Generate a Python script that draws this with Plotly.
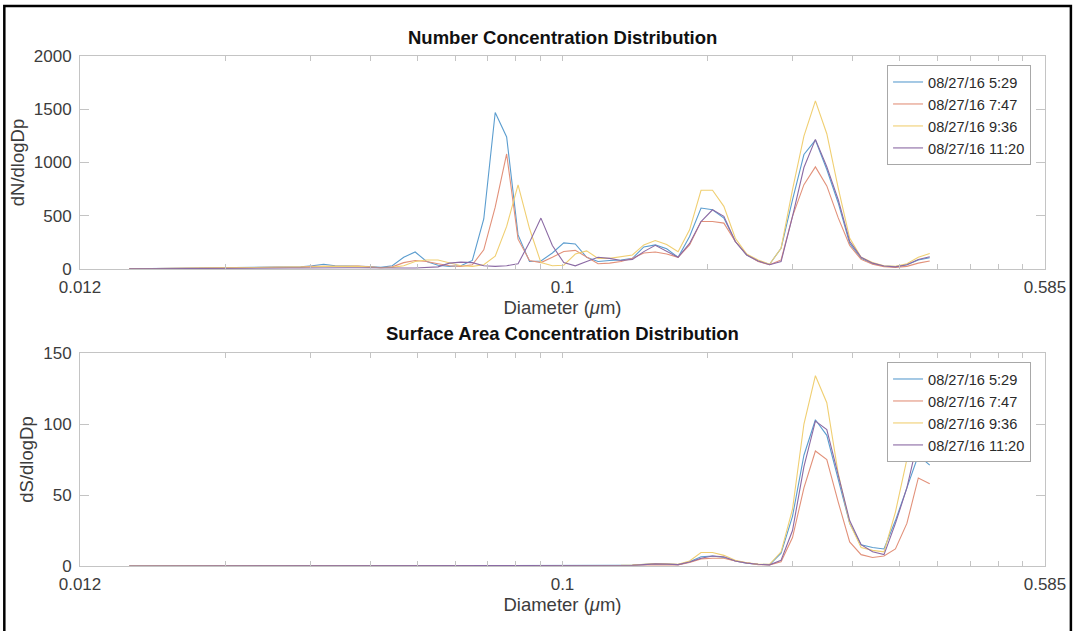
import plotly.graph_objects as go

# ---------------- data ----------------
diameter_um = [0.01265, 0.01336, 0.01411, 0.01490, 0.01573, 0.01661, 0.01755, 0.01854, 0.01957, 0.02067,
               0.02183, 0.02305, 0.02435, 0.02572, 0.02716, 0.02868, 0.03029, 0.03199, 0.03378, 0.03568,
               0.03768, 0.03979, 0.04202, 0.04438, 0.04687, 0.04950, 0.05228, 0.05521, 0.05830, 0.06158,
               0.06503, 0.06868, 0.07253, 0.07660, 0.08089, 0.08543, 0.09022, 0.09528, 0.1006, 0.1063,
               0.1122, 0.1185, 0.1252, 0.1322, 0.1396, 0.1474, 0.1557, 0.1644, 0.1736, 0.1834,
               0.1937, 0.2046, 0.2160, 0.2281, 0.2409, 0.2544, 0.2687, 0.2838, 0.2997, 0.3165,
               0.3343, 0.3530, 0.3728, 0.3937, 0.4158, 0.4392, 0.4638, 0.4898, 0.5173, 0.5463, 0.5769]

series_names = ["08/27/16 5:29", "08/27/16 7:47", "08/27/16 9:36", "08/27/16 11:20"]

dN_0529 = [3, 4, 5, 6, 6, 7, 6, 7, 8, 7,
           8, 9, 10, 12, 15, 20, 30, 44, 30, 28,
           30, 22, 15, 30, 110, 160, 70, 35, 25, 30,
           80, 470, 1470, 1240, 320, 70, 75, 150, 245, 235,
           110, 70, 80, 85, 100, 207, 226, 190, 110, 305,
           572, 556, 478, 258, 132, 75, 45, 195, 650, 1075,
           1210, 934, 620, 240, 100, 50, 28, 22, 40, 85, 105]
dN_0747 = [2, 3, 4, 5, 5, 6, 6, 6, 7, 7,
           8, 9, 9, 12, 14, 18, 25, 28, 25, 25,
           28, 20, 12, 20, 60, 80, 70, 50, 30, 25,
           40, 180, 580, 1080, 280, 80, 60, 110, 165, 175,
           110, 50, 55, 70, 100, 150, 160, 141, 110, 226,
           446, 446, 431, 258, 132, 70, 40, 85, 494, 792,
           959, 780, 480, 220, 90, 45, 22, 15, 25, 55, 75]
dN_0936 = [2, 3, 3, 4, 5, 5, 6, 6, 7, 7,
           8, 8, 9, 10, 12, 15, 20, 25, 27, 28,
           25, 18, 12, 15, 30, 70, 85, 85, 60, 30,
           25, 40, 120, 400, 790, 380, 60, 30, 35, 140,
           170, 100, 100, 116, 132, 226, 267, 230, 163, 368,
           739, 739, 588, 289, 140, 85, 45, 195, 745, 1248,
           1578, 1270, 760, 290, 110, 60, 30, 25, 50, 110, 145]
dN_1120 = [2, 2, 3, 3, 4, 4, 5, 5, 5, 6,
           6, 7, 7, 8, 9, 10, 12, 15, 14, 12,
           12, 10, 8, 8, 10, 10, 12, 20, 55, 65,
           60, 30, 25, 30, 50, 250, 478, 220, 60, 30,
           70, 110, 100, 80, 90, 163, 222, 170, 110, 240,
           446, 556, 494, 258, 132, 75, 40, 69, 494, 953,
           1217, 960, 650, 260, 110, 55, 28, 20, 40, 90, 115]

dS_0529 = [0, 0, 0, 0, 0, 0, 0, 0, 0, 0,
           0, 0, 0, 0, 0, 0, 0, 0, 0, 0,
           0, 0, 0, 0, 0, 0, 0, 0, 0, 0,
           0, 0.1, 0.3, 0.3, 0.1, 0.1, 0.1, 0.2, 0.3, 0.3,
           0.3, 0.3, 0.4, 0.5, 0.6, 1.2, 1.5, 1.4, 1.0, 3.0,
           6.5, 7.0, 6.0, 3.5, 2.0, 1.2, 1.0, 9, 35, 78,
           103, 92, 62, 30, 15, 13, 12, 32, 55, 78, 71]
dS_0747 = [0, 0, 0, 0, 0, 0, 0, 0, 0, 0,
           0, 0, 0, 0, 0, 0, 0, 0, 0, 0,
           0, 0, 0, 0, 0, 0, 0, 0, 0, 0,
           0, 0.1, 0.2, 0.3, 0.1, 0.1, 0.1, 0.1, 0.2, 0.2,
           0.2, 0.2, 0.3, 0.4, 0.5, 0.9, 1.0, 0.9, 0.8, 2.5,
           5.0, 5.5, 5.5, 3.5, 2.0, 1.0, 0.8, 3, 20, 55,
           81, 75, 45, 17, 8, 6, 7, 12, 30, 62, 58]
dS_0936 = [0, 0, 0, 0, 0, 0, 0, 0, 0, 0,
           0, 0, 0, 0, 0, 0, 0, 0, 0, 0,
           0, 0, 0, 0, 0, 0, 0, 0, 0, 0,
           0, 0, 0.1, 0.2, 0.3, 0.2, 0.1, 0.1, 0.1, 0.2,
           0.3, 0.3, 0.4, 0.5, 0.7, 1.3, 1.8, 1.6, 1.2, 3.5,
           9.5, 9.5, 7.5, 4.0, 2.2, 1.3, 1.2, 10, 40, 100,
           134, 115, 65, 30, 13, 11, 10, 38, 75, 100, 105]
dS_1120 = [0, 0, 0, 0, 0, 0, 0, 0, 0, 0,
           0, 0, 0, 0, 0, 0, 0, 0, 0, 0,
           0, 0, 0, 0, 0, 0, 0, 0, 0, 0,
           0, 0, 0, 0, 0, 0.1, 0.2, 0.1, 0.1, 0.1,
           0.2, 0.3, 0.4, 0.4, 0.5, 1.0, 1.5, 1.3, 1.0, 2.8,
           5.5, 7.0, 6.5, 3.5, 2.0, 1.2, 0.8, 4, 25, 70,
           102, 96, 64, 32, 15, 10, 8, 30, 55, 90, 92]

x_tick_vals = [0.01, 0.1, 1]
x_tick_text = ["0.012", "0.1", "0.585"]
x_minor_vals = [0.02, 0.03, 0.04, 0.05, 0.06, 0.07, 0.08, 0.09,
                0.2, 0.3, 0.4, 0.5, 0.6, 0.7, 0.8, 0.9]
yN_ticks = [0, 500, 1000, 1500, 2000]
yS_ticks = [0, 50, 100, 150]

line_colors = ["#5b9dcf", "#e2917a", "#f0cf72", "#8b6aa4"]

# ---------------- layout (pixels) ----------------
W, H = 1078, 631
L, R = 80, 1049
T1, B1 = 56, 269
T2, B2 = 353, 566


def xp(px):
    return (px - L) / (R - L)


def yp(py):
    return (B2 - py) / (B2 - T1)


FONT = "Liberation Sans, Arial, Helvetica, sans-serif"
AX_COLOR = "#c4c4c4"
TXT_COLOR = "#3c3c3c"

fig = go.Figure()

for name, ys, col in zip(series_names, [dN_0529, dN_0747, dN_0936, dN_1120], line_colors):
    fig.add_trace(go.Scatter(x=diameter_um, y=ys, mode="lines", name=name,
                             line=dict(color=col, width=1.1),
                             xaxis="x", yaxis="y", legend="legend"))
for name, ys, col in zip(series_names, [dS_0529, dS_0747, dS_0936, dS_1120], line_colors):
    fig.add_trace(go.Scatter(x=diameter_um, y=ys, mode="lines", name=name,
                             line=dict(color=col, width=1.1),
                             xaxis="x2", yaxis="y2", legend="legend2"))


def xaxis_cfg(anchor, label_standoff, title_standoff):
    return dict(
        type="log", range=[-2, 0], anchor=anchor, domain=[0, 1],
        tickmode="array", tickvals=x_tick_vals, ticktext=x_tick_text,
        ticks="inside", ticklen=5, tickcolor=AX_COLOR, tickwidth=1,
        showline=True, linecolor=AX_COLOR, linewidth=1, mirror="ticks",
        showgrid=False, zeroline=False,
        tickfont=dict(family=FONT, size=17, color=TXT_COLOR),
        ticklabelstandoff=label_standoff,
        minor=dict(tickmode="array", tickvals=x_minor_vals, ticks="inside",
                   ticklen=5, tickcolor=AX_COLOR, tickwidth=1, showgrid=False),
        title=dict(text="Diameter (<i>μ</i>m)", standoff=title_standoff,
                   font=dict(family=FONT, size=18.5, color=TXT_COLOR)),
    )


def yaxis_cfg(anchor, dom, rng, tv, title):
    return dict(
        anchor=anchor, domain=dom, range=rng,
        tickmode="array", tickvals=tv,
        ticks="inside", ticklen=9, tickcolor=AX_COLOR, tickwidth=1,
        showline=True, linecolor=AX_COLOR, linewidth=1, mirror="ticks",
        showgrid=False, zeroline=False,
        tickfont=dict(family=FONT, size=17, color=TXT_COLOR),
        ticklabelstandoff=4,
        title=dict(text=title, standoff=4,
                   font=dict(family=FONT, size=18.5, color=TXT_COLOR)),
    )


legend_common = dict(
    bgcolor="white", bordercolor="#a8a8a8", borderwidth=1,
    font=dict(family=FONT, size=14.6, color="#2a2a2a"),
    itemwidth=30, xanchor="right", yanchor="top", tracegroupgap=0,
)

fig.update_layout(
    width=W, height=H,
    margin=dict(l=L, r=W - R, t=T1, b=H - B2, pad=0),
    paper_bgcolor="white", plot_bgcolor="white",
    showlegend=True,
    xaxis=xaxis_cfg("y", 3, 0),
    yaxis=yaxis_cfg("x", [yp(B1), 1], [0, 2000], yN_ticks, "dN/dlogDp"),
    xaxis2=xaxis_cfg("y2", 3, 4),
    yaxis2=yaxis_cfg("x2", [0, yp(T2)], [0, 150], yS_ticks, "dS/dlogDp"),
    legend=dict(x=xp(1035), y=yp(65), **legend_common),
    legend2=dict(x=xp(1035), y=yp(362), **legend_common),
    annotations=[
        dict(text="<b>Number Concentration Distribution</b>", xref="paper", yref="paper",
             x=0.5, y=yp(38), xanchor="center", yanchor="middle", showarrow=False,
             font=dict(family=FONT, size=18.5, color="#111111")),
        dict(text="<b>Surface Area Concentration Distribution</b>", xref="paper", yref="paper",
             x=0.5, y=yp(333), xanchor="center", yanchor="middle", showarrow=False,
             font=dict(family=FONT, size=18.5, color="#111111")),
    ],
    shapes=[
        dict(type="rect", xref="paper", yref="paper",
             x0=xp(4), x1=xp(1075), y0=yp(645), y1=yp(6),
             line=dict(color="black", width=2.5), fillcolor="rgba(0,0,0,0)", layer="above"),
    ],
)

fig.write_html("out.html")
